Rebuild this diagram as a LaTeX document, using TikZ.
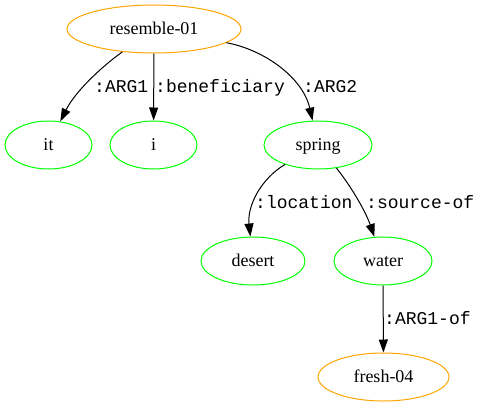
\documentclass[tikz,border=0pt]{standalone}
\usepackage{fontspec}
\setmainfont{Liberation Serif}
\setmonofont{Liberation Mono}
\usetikzlibrary{shapes.geometric,arrows.meta}
\definecolor{gvorange}{RGB}{255,165,0}
\definecolor{gvgreen}{RGB}{0,255,0}

\begin{document}
\begin{tikzpicture}[x=1pt,y=-1pt,
    concept/.style={ellipse,draw=gvgreen,line width=1pt,inner sep=0pt,minimum height=48pt,
      text height=13pt,text depth=3pt,font=\fontsize{18}{20}\selectfont},
    pred/.style={concept,draw=gvorange},
    rel/.style={anchor=base west,inner sep=0pt,font=\ttfamily\fontsize{18}{20}\selectfont},
    edge/.style={line width=1pt,-{Triangle[length=13pt,width=9pt]}}]
    \useasboundingbox (0,0) rectangle (481,407);

    \node[pred,minimum width=174pt] (res) at (154,29) {resemble-01};
    \node[concept,minimum width=87pt] (it) at (48.5,145) {it};
    \node[concept,minimum width=87pt] (i) at (153.5,145) {i};
    \node[concept,minimum width=108pt] (spring) at (318,145) {spring};
    \node[concept,minimum width=104pt] (desert) at (253,261) {desert};
    \node[concept,minimum width=98pt] (water) at (383,261) {water};
    \node[pred,minimum width=131pt] (fresh) at (383.5,377) {fresh-04};

    % edges
    \draw[edge] (res) .. controls (100,68) and (75,92) .. (it);
    \draw[edge] (res) -- (i);
    \draw[edge] (res) .. controls (265,50) and (303,78) .. (spring);
    \draw[edge] (spring) .. controls (262,178) and (247,205) .. (desert);
    \draw[edge] (spring) .. controls (350,185) and (365,210) .. (water);
    \draw[edge] (water) -- (fresh);

    % edge labels
    \node[rel] (lARG1) at (94,92) {:ARG1};
    \node[rel] (lbenef) at (155,92) {:beneficiary};
    \node[rel] (lARG2) at (303,92) {:ARG2};
    \node[rel] (lloc) at (255,208) {:location};
    \node[rel] (lsrc) at (366,208) {:source-of};
    \node[rel] (lARG1of) at (384,324) {:ARG1-of};
\end{tikzpicture}
\end{document}
